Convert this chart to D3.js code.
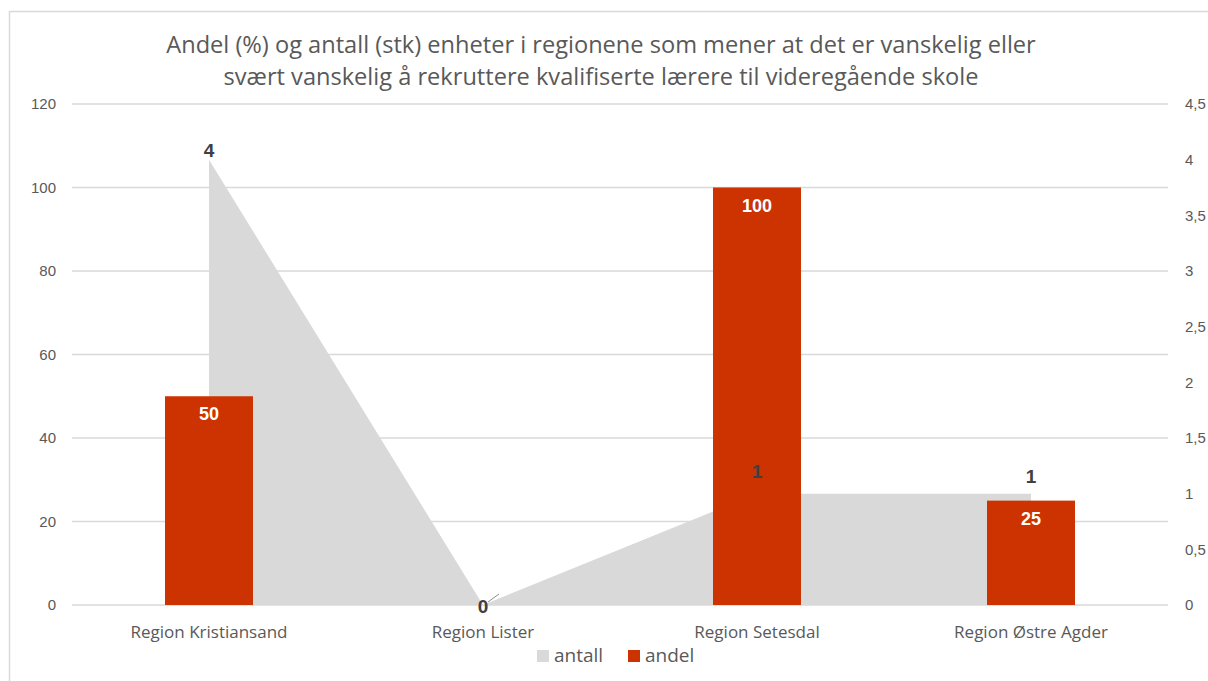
<!DOCTYPE html>
<html>
<head>
<meta charset="utf-8">
<script src="https://d3js.org/d3.v7.min.js"></script>
<style>
  body { margin: 0; background: #fff; }
</style>
</head>
<body>
<svg id="chart" width="1208" height="681"></svg>
<script>
// data
var regions = ["Region Kristiansand", "Region Lister", "Region Setesdal", "Region Østre Agder"];
var andel = [50, 0, 100, 25];      // percent, left axis (bars)
var antall = [4, 0, 1, 1];         // count, right axis (area)
var leftTicks = [0, 20, 40, 60, 80, 100, 120];
var rightTicks = [0, 0.5, 1, 1.5, 2, 2.5, 3, 3.5, 4, 4.5];
var titleLines = [
  "Andel (%) og antall (stk) enheter i regionene som mener at det er vanskelig eller",
  "svært vanskelig å rekruttere kvalifiserte lærere til videregående skole"
];

var red = "#cc3300", grey = "#d9d9d9", txt = "#595959";
var sans = "'Open Sans', 'Noto Sans', sans-serif";
var arial = "'Liberation Sans', Arial, sans-serif";
var svg = d3.select("#chart");

// chart border
svg.append("rect")
  .attr("x", 9.5).attr("y", 11.5)
  .attr("width", 1220).attr("height", 700)
  .attr("fill", "#fff").attr("stroke", "#d9d9d9").attr("stroke-width", 1.5);

var plot = { left: 72, right: 1168, top: 104, bottom: 605 };

var x = d3.scaleBand().domain(regions).range([plot.left, plot.right]).paddingInner(0).paddingOuter(0);
var yL = d3.scaleLinear().domain([0, 120]).range([plot.bottom, plot.top]);
var yR = d3.scaleLinear().domain([0, 4.5]).range([plot.bottom, plot.top]);
var cx = function (d) { return x(d) + x.bandwidth() / 2; };
var fmt = function (v) { return String(v).replace(".", ","); };

// title
svg.append("g").selectAll("text").data(titleLines).enter().append("text")
  .attr("x", 601).attr("y", function (d, i) { return 53 + i * 32; })
  .attr("text-anchor", "middle")
  .style("font-family", sans).style("font-size", "23.6px").attr("fill", txt)
  .text(function (d) { return d; });

// gridlines
svg.append("g").selectAll("line").data(leftTicks).enter().append("line")
  .attr("x1", plot.left).attr("x2", plot.right)
  .attr("y1", function (d) { return yL(d); }).attr("y2", function (d) { return yL(d); })
  .attr("stroke", "#d9d9d9").attr("stroke-width", 1.5);

// left axis
var gl = svg.append("g").attr("transform", "translate(" + (plot.left - 16) + ",0)")
  .call(d3.axisLeft(yL).tickValues(leftTicks).tickSize(0).tickPadding(0));
gl.select(".domain").remove();
gl.selectAll("text").style("font-size", "15px").style("font-family", arial).attr("fill", txt);

// right axis
var gr = svg.append("g").attr("transform", "translate(" + (plot.right + 17) + ",0)")
  .call(d3.axisRight(yR).tickValues(rightTicks).tickSize(0).tickPadding(0).tickFormat(fmt));
gr.select(".domain").remove();
gr.selectAll("text").style("font-size", "15px").style("font-family", arial).attr("fill", txt);

// antall area (behind bars)
var area = d3.area()
  .x(function (d, i) { return cx(regions[i]); })
  .y0(yR(0))
  .y1(function (d) { return yR(d); });
svg.append("path").datum(antall)
  .attr("d", area).attr("fill", grey);

// andel bars
var barW = 88;
svg.append("g").selectAll("rect").data(andel).enter().append("rect")
  .attr("x", function (d, i) { return cx(regions[i]) - barW / 2; })
  .attr("y", function (d) { return yL(d); })
  .attr("width", barW)
  .attr("height", function (d) { return yL(0) - yL(d); })
  .attr("fill", red);

// bar labels
svg.append("g").selectAll("text").data(andel).enter().append("text")
  .filter(function (d) { return d > 0; })
  .attr("x", function (d) { return cx(regions[andel.indexOf(d)]); })
  .attr("y", function (d) { return yL(d) + 24; })
  .attr("text-anchor", "middle")
  .style("font-family", arial).style("font-weight", "bold").style("font-size", "18px")
  .attr("fill", "#fff")
  .text(function (d) { return d; });

// leader line for the Lister label
svg.append("line")
  .attr("x1", cx(regions[1]) + 5).attr("y1", yR(0) - 3)
  .attr("x2", cx(regions[1]) + 16).attr("y2", yR(0) - 11)
  .attr("stroke", "#8c8c8c").attr("stroke-width", 1);

// area labels
var areaLabelDy = [-3, 8, -16, -11];
svg.append("g").selectAll("text").data(antall).enter().append("text")
  .attr("x", function (d, i) { return cx(regions[i]); })
  .attr("y", function (d, i) { return yR(d) + areaLabelDy[i]; })
  .attr("text-anchor", "middle")
  .style("font-family", arial).style("font-weight", "bold").style("font-size", "19px")
  .attr("fill", "#404040")
  .text(function (d) { return d; });

// category labels
svg.append("g").selectAll("text").data(regions).enter().append("text")
  .attr("x", function (d) { return cx(d); })
  .attr("y", 638)
  .attr("text-anchor", "middle")
  .style("font-family", sans).style("font-size", "17px").attr("fill", txt)
  .text(function (d) { return d; });

// legend
var legend = [{ name: "antall", color: grey }, { name: "andel", color: red }];
var lg = svg.append("g").attr("transform", "translate(537,650)");
var item = lg.selectAll("g").data(legend).enter().append("g")
  .attr("transform", function (d, i) { return "translate(" + (i * 91) + ",0)"; });
item.append("rect").attr("width", 12).attr("height", 12).attr("fill", function (d) { return d.color; });
item.append("text").attr("x", 17).attr("y", 12)
  .style("font-family", sans).style("font-size", "19px").attr("fill", txt)
  .text(function (d) { return d.name; });
</script>
</body>
</html>
